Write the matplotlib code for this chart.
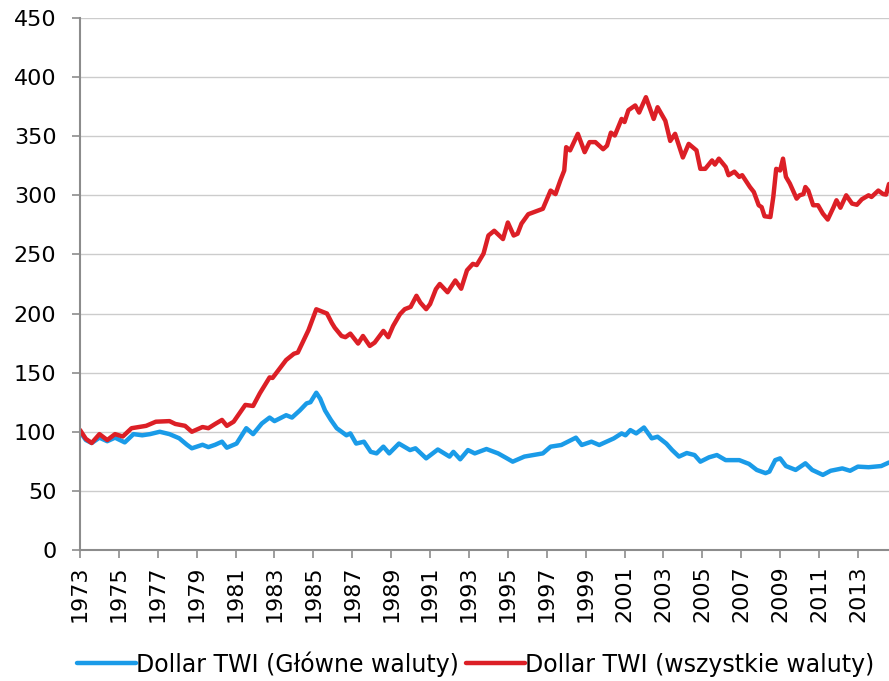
import matplotlib
matplotlib.use("Agg")
import matplotlib.pyplot as plt

# Dollar TWI - major currencies (blue)
blue_years = [1973.0, 1973.3, 1973.6, 1974.0, 1974.4, 1974.8, 1975.3, 1975.75, 1976.2, 1976.6,
              1977.1, 1977.6, 1978.1, 1978.5, 1978.75, 1979.3, 1979.6, 1979.95, 1980.3, 1980.55,
              1981.05, 1981.55, 1981.9, 1982.35, 1982.75, 1983.0, 1983.6, 1983.9, 1984.3, 1984.65,
              1984.85, 1985.15, 1985.35, 1985.6, 1985.9, 1986.2, 1986.7, 1986.9, 1987.2, 1987.6,
              1987.95, 1988.25, 1988.6, 1988.9, 1989.4, 1989.97, 1990.25, 1990.8, 1991.4, 1992.0,
              1992.2, 1992.55, 1992.95, 1993.3, 1993.9, 1994.5, 1994.9, 1995.25, 1995.85, 1996.8,
              1997.2, 1997.75, 1998.5, 1998.8, 1999.3, 1999.7, 2000.45, 2000.85, 2001.05, 2001.3,
              2001.6, 2002.0, 2002.4, 2002.7, 2003.15, 2003.45, 2003.8, 2004.2, 2004.6, 2004.9,
              2005.35, 2005.75, 2006.2, 2006.9, 2007.4, 2007.8, 2008.25, 2008.45, 2008.75, 2009.0,
              2009.3, 2009.8, 2010.3, 2010.65, 2011.2, 2011.6, 2012.2, 2012.6, 2013.0, 2013.55,
              2014.2, 2014.6]
blue_values = [100, 93, 90.5, 95, 92, 95, 91, 98, 97, 98,
               100, 98, 94.5, 89, 86, 89, 87, 89, 91.6, 86.5,
               90, 103, 98, 107, 112, 109, 114, 112, 118, 124,
               125, 133, 128, 118, 110, 103, 97, 98.6, 90, 91.6,
               83, 81.7, 87.4, 81.7, 90, 84.5, 86, 77.5, 85, 79,
               83, 76.7, 84.5, 81.7, 85.4, 81.7, 78, 74.7, 79, 81.7,
               87.4, 88.8, 95, 88.8, 91.6, 88.8, 94.4, 98.6, 97, 101.4,
               98.6, 103.6, 94.4, 95.8, 90, 84.5, 79, 82, 80.3, 74.7,
               78.4, 80.3, 76, 76, 72.8, 67.7, 65, 66.3, 76, 77.5,
               71, 67.7, 73.3, 67.7, 63.5, 67, 69, 67, 70.5, 70,
               71, 74]

# Dollar TWI - all currencies (red)
red_years = [1973.0, 1973.3, 1973.6, 1974.0, 1974.4, 1974.8, 1975.2, 1975.65, 1976.4, 1976.9,
             1977.6, 1977.9, 1978.4, 1978.75, 1979.3, 1979.6, 1979.95, 1980.3, 1980.55, 1980.9,
             1981.5, 1981.9, 1982.25, 1982.75, 1982.9, 1983.6, 1984.0, 1984.2, 1984.75, 1985.15,
             1985.7, 1985.95, 1986.1, 1986.45, 1986.65, 1986.9, 1987.3, 1987.55, 1987.9, 1988.15,
             1988.6, 1988.85, 1989.1, 1989.45, 1989.7, 1990.0, 1990.3, 1990.5, 1990.8, 1991.0,
             1991.3, 1991.5, 1991.9, 1992.3, 1992.6, 1992.9, 1993.2, 1993.4, 1993.75, 1994.0,
             1994.3, 1994.75, 1995.0, 1995.3, 1995.5, 1995.7, 1996.05, 1996.55, 1996.8, 1997.2,
             1997.45, 1997.7, 1997.9, 1998.0, 1998.2, 1998.6, 1998.95, 1999.2, 1999.5, 1999.9,
             2000.1, 2000.3, 2000.5, 2000.85, 2001.0, 2001.2, 2001.55, 2001.75, 2002.1, 2002.5,
             2002.7, 2003.1, 2003.35, 2003.6, 2003.8, 2004.0, 2004.3, 2004.7, 2004.9, 2005.15,
             2005.5, 2005.65, 2005.85, 2006.2, 2006.35, 2006.65, 2006.9, 2007.05, 2007.45, 2007.65,
             2007.9, 2008.05, 2008.2, 2008.5, 2008.65, 2008.8, 2009.0, 2009.15, 2009.3, 2009.5,
             2009.85, 2010.0, 2010.2, 2010.3, 2010.45, 2010.7, 2010.95, 2011.2, 2011.45, 2011.75,
             2011.9, 2012.1, 2012.4, 2012.7, 2012.95, 2013.2, 2013.55, 2013.7, 2014.05, 2014.3,
             2014.45, 2014.6]
red_values = [101.5, 94, 90.5, 98, 93, 98, 96, 103, 105, 108.5,
              109, 106.6, 105, 100, 104, 103, 106.6, 110, 105, 108.5,
              122.7, 121.8, 132.6, 146, 145.5, 160.7, 166, 167, 186, 203.6,
              200, 192, 188, 181, 180, 183, 174.6, 181, 172.6, 175.4,
              185.3, 180, 189.5, 199.4, 203.7, 205.6, 215, 209.3, 203.7, 208,
              220.6, 225, 218, 228, 221, 236.6, 242, 241, 250.7, 266,
              270, 263, 277, 266, 267.5, 276, 284, 287, 288.6, 304,
              301, 312.6, 321, 340.7, 338, 352, 336.5, 345, 345, 339,
              342, 353, 350.6, 364.6, 362, 372, 376, 370, 383, 364.6,
              374.5, 363, 346, 352, 342, 332, 343.5, 338, 322.4, 322.4,
              329.5, 326, 331, 324, 317, 320, 315.6, 317, 307, 302.8,
              291.6, 290, 282.3, 281.6, 298.6, 322.4, 321, 331, 315.6, 310,
              297.2, 300, 301, 307, 304, 291.6, 291.6, 284.5, 279.5, 290,
              295.8, 289.5, 300, 293, 292, 296.6, 300, 298.6, 304, 301,
              300.6, 309.6]

tick_years = list(range(1973, 2014, 2))
y_ticks = list(range(0, 451, 50))

plt.rcParams['font.family'] = ['DejaVu Sans']

fig = plt.figure(figsize=(8.89, 6.81), dpi=100)
ax = fig.add_axes([0.09, 0.1924, 0.91, 0.7812])

ax.plot(blue_years, blue_values, color='#1A9BE8', lw=3.2, solid_capstyle='round',
        solid_joinstyle='round', label='Dollar TWI (Główne waluty)')
ax.plot(red_years, red_values, color='#DC1F26', lw=3.2, solid_capstyle='round',
        solid_joinstyle='round', label='Dollar TWI (wszystkie waluty)')

ax.set_xlim(1973, 2014.6)
ax.set_ylim(0, 450)
ax.set_xticks(tick_years)
ax.set_xticklabels([str(y) for y in tick_years], rotation=90)
ax.set_yticks(y_ticks)

ax.grid(axis='y', color='#cccccc', lw=1.0)
ax.set_axisbelow(True)
for side in ['top', 'right']:
    ax.spines[side].set_visible(False)
for side in ['left', 'bottom']:
    ax.spines[side].set_color('#8c8c8c')
    ax.spines[side].set_linewidth(1.5)
ax.tick_params(axis='both', direction='out', length=6, width=1.2, color='#8c8c8c',
               labelsize=16, labelcolor='black')
ax.tick_params(axis='x', pad=5)
ax.tick_params(axis='y', pad=11)

fig.legend(loc='center', bbox_to_anchor=(0.535, 0.025), ncol=2, frameon=False,
           fontsize=17, handlelength=2.5, handletextpad=0.0, columnspacing=0.3)

fig.savefig('out.png', dpi=100)
